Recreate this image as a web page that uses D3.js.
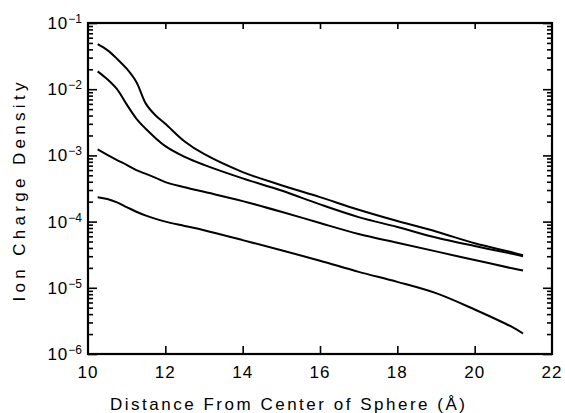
<!DOCTYPE html>
<html>
<head>
<meta charset="utf-8">
<script src="https://cdn.jsdelivr.net/npm/d3@7"></script>
<style>
  body { margin: 0; background: #fff; }
  text { font-family: "Liberation Sans", Arial, sans-serif; fill: #000; }
</style>
</head>
<body>
<div id="chart"></div>
<script>
// distance from centre of sphere (Å), shared by all four curves
const distance = [10.25, 10.5, 10.75, 11, 11.25, 11.5, 11.75, 12, 12.5, 13, 14, 15, 16, 17, 18, 19, 20, 21, 21.25];

// ion charge density (top curve first)
const density1 = [4.79e-2, 3.89e-2, 2.88e-2, 2.04e-2, 1.29e-2, 6.0e-3, 4.0e-3, 3.0e-3, 1.62e-3, 1.05e-3,
                  5.6e-4, 3.55e-4, 2.34e-4, 1.51e-4, 1.02e-4, 7.1e-5, 4.7e-5, 3.4e-5, 3.1e-5];
const density2 = [1.86e-2, 1.41e-2, 1.0e-2, 5.9e-3, 3.6e-3, 2.5e-3, 1.82e-3, 1.38e-3, 9.5e-4, 7.2e-4,
                  4.5e-4, 2.95e-4, 1.82e-4, 1.17e-4, 8.3e-5, 5.75e-5, 4.27e-5, 3.24e-5, 3.0e-5];
const density3 = [1.23e-3, 1.02e-3, 8.5e-4, 7.2e-4, 6.0e-4, 5.25e-4, 4.57e-4, 3.95e-4, 3.31e-4, 2.82e-4,
                  2.04e-4, 1.41e-4, 9.5e-5, 6.5e-5, 4.8e-5, 3.55e-5, 2.63e-5, 1.95e-5, 1.82e-5];
const density4 = [2.34e-4, 2.19e-4, 1.95e-4, 1.66e-4, 1.41e-4, 1.23e-4, 1.10e-4, 1.0e-4, 8.6e-5, 7.4e-5,
                  5.25e-5, 3.7e-5, 2.57e-5, 1.74e-5, 1.23e-5, 8.3e-6, 4.7e-6, 2.5e-6, 2.04e-6];

const xTicks = [10, 12, 14, 16, 18, 20, 22];
const yExponents = [-1, -2, -3, -4, -5, -6];

const W = 565, H = 413;
const margin = {top: 23, right: 13, bottom: 59, left: 88};
const width = W - margin.left - margin.right;
const height = H - margin.top - margin.bottom;

const svg = d3.select("#chart").append("svg")
    .attr("width", W)
    .attr("height", H);

const g = svg.append("g")
    .attr("transform", "translate(" + margin.left + "," + margin.top + ")");

const x = d3.scaleLinear().domain([10, 22]).range([0, width]);
const y = d3.scaleLog().domain([1e-6, 1e-1]).range([height, 0]);

const yMajor = yExponents.map(e => Math.pow(10, e));
const yMinor = y.ticks().filter(v => !yMajor.some(m => Math.abs(v / m - 1) < 1e-6));
const xInner = xTicks.slice(1, -1);

function styleAxis(sel) {
    sel.select(".domain").remove();
    sel.selectAll("line").attr("stroke", "#000").attr("stroke-width", 1.6);
}

// left axis: major + minor ticks pointing inward
g.append("g").call(d3.axisLeft(y).tickValues(yMajor).tickSize(-9).tickFormat("")).call(styleAxis);
g.append("g").call(d3.axisLeft(y).tickValues(yMinor).tickSize(-5).tickFormat("")).call(styleAxis);
// right axis
g.append("g").attr("transform", "translate(" + width + ",0)")
    .call(d3.axisRight(y).tickValues(yMajor).tickSize(-9).tickFormat("")).call(styleAxis);
g.append("g").attr("transform", "translate(" + width + ",0)")
    .call(d3.axisRight(y).tickValues(yMinor).tickSize(-5).tickFormat("")).call(styleAxis);
// bottom / top axes
g.append("g").attr("transform", "translate(0," + height + ")")
    .call(d3.axisBottom(x).tickValues(xInner).tickSize(-8).tickFormat("")).call(styleAxis);
g.append("g")
    .call(d3.axisTop(x).tickValues(xInner).tickSize(-6).tickFormat("")).call(styleAxis);

// frame
g.append("rect")
    .attr("width", width)
    .attr("height", height)
    .attr("fill", "none")
    .attr("stroke", "#000")
    .attr("stroke-width", 2.2);

// y tick labels: 10 with superscript exponent
const yLab = g.selectAll(".ylab")
    .data(yExponents)
    .enter()
    .append("text")
    .attr("class", "ylab")
    .attr("x", -6)
    .attr("y", d => y(Math.pow(10, d)) + 6)
    .attr("text-anchor", "end")
    .style("font-size", "17px");
yLab.append("tspan").attr("letter-spacing", "1px").text("10");
yLab.append("tspan")
    .attr("dy", -6)
    .style("font-size", "12px")
    .text(d => "\u2212" + Math.abs(d));

// x tick labels
g.selectAll(".xlab")
    .data(xTicks)
    .enter()
    .append("text")
    .attr("class", "xlab")
    .attr("x", d => x(d))
    .attr("y", height + 24)
    .attr("text-anchor", "middle")
    .attr("letter-spacing", "1px")
    .style("font-size", "17px")
    .text(d => d);

// curves
const line = d3.line()
    .x(d => x(d[0]))
    .y(d => y(d[1]))
    .curve(d3.curveCatmullRom.alpha(0.5));

[density1, density2, density3, density4].forEach(series => {
    g.append("path")
        .datum(distance.map((d, i) => [d, series[i]]))
        .attr("fill", "none")
        .attr("stroke", "#000")
        .attr("stroke-width", 2)
        .attr("d", line);
});

// axis titles
svg.append("text")
    .attr("x", 110)
    .attr("y", 410)
    .attr("textLength", 355)
    .attr("lengthAdjust", "spacing")
    .style("font-size", "17px")
    .text("Distance From Center of Sphere (\u00C5)");

svg.append("text")
    .attr("transform", "translate(25,192) rotate(-90)")
    .attr("text-anchor", "middle")
    .attr("textLength", 219)
    .attr("lengthAdjust", "spacing")
    .style("font-size", "17px")
    .text("Ion Charge Density");
</script>
</body>
</html>
